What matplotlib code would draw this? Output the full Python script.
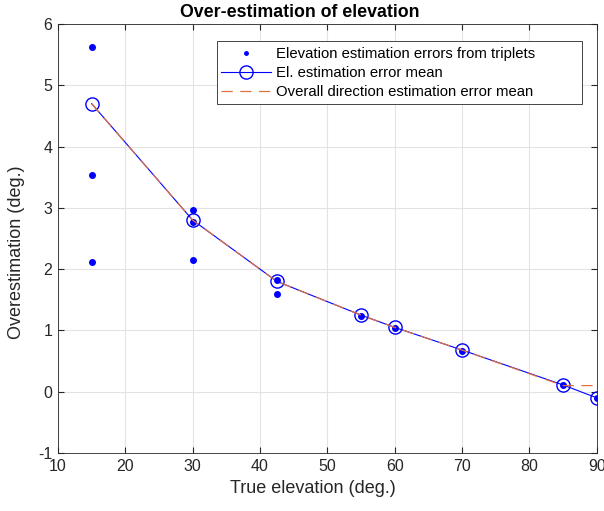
import numpy as np
import matplotlib
matplotlib.use('Agg')
import matplotlib.pyplot as plt
from matplotlib.patches import Rectangle

plt.rcParams['font.family'] = ['Liberation Sans', 'DejaVu Sans']
plt.rcParams['axes.unicode_minus'] = False

# individual triplet errors
dots_x = [15, 15, 15, 30, 30, 30, 42.5, 42.5, 55, 60, 70, 85, 90]
dots_y = [5.62, 3.53, 2.12, 2.96, 2.77, 2.15, 1.82, 1.59, 1.24, 1.04, 0.67, 0.11, -0.10]

# mean values
elev = [15, 30, 42.5, 55, 60, 70, 85, 90]
el_mean = [4.70, 2.80, 1.80, 1.25, 1.05, 0.68, 0.11, -0.10]
overall_mean = [4.70, 2.80, 1.80, 1.25, 1.05, 0.68, 0.10, 0.10]

fig = plt.figure(figsize=(6.04, 5.11), dpi=100)
ax = fig.add_axes([0.096, 0.1135, 0.892, 0.8395])

ax.plot(dots_x, dots_y, '.', color='#0000ff', markersize=8,
        label='Elevation estimation errors from triplets')
ax.plot(elev, el_mean, '-o', color='#0000ff', lw=0.8, markersize=9.5,
        markerfacecolor='none', markeredgewidth=1.0, label='El. estimation error mean')
ax.plot(elev, overall_mean, '--', color='#e07040', lw=0.9, dashes=(9, 6),
        label='Overall direction estimation error mean')

ax.set_xlim(10, 90)
ax.set_ylim(-1, 6)
ax.set_xticks(np.arange(10, 91, 10))
ax.set_yticks(np.arange(-1, 7, 1))
ax.grid(True, color='#e3e3e3', lw=0.8)
ax.set_axisbelow(True)
ax.tick_params(direction='in', length=4, labelsize=11.5, colors='#262626',
               top=True, right=True, pad=4)
for s in ax.spines.values():
    s.set_color('#262626')
    s.set_linewidth(0.6)

ax.set_xlabel('True elevation (deg.)', fontsize=13, color='#262626')
ax.xaxis.set_label_coords(0.473, -0.064)
ax.set_ylabel('Overestimation (deg.)', fontsize=13, color='#262626')
ax.yaxis.set_label_coords(-0.062, 0.469)
ax.set_title('Over-estimation of elevation', fontsize=12.8, fontweight='bold',
             x=0.449, pad=5)

# legend box drawn by hand (MATLAB leaves extra room on the right)
ax.add_patch(Rectangle((0.295, 0.8135), 0.677, 0.1465, transform=ax.transAxes,
                       facecolor='white', edgecolor='#262626', lw=0.6, zorder=5))
leg = ax.legend(loc='center left', bbox_to_anchor=(0.302, 0.886), borderaxespad=0,
                fontsize=10.7, frameon=False, handlelength=3.4, borderpad=0,
                labelspacing=0.33, handletextpad=0.3)
leg.set_zorder(6)
leg.legend_handles[0].set_markersize(5)

fig.savefig('out.png', dpi=100)
